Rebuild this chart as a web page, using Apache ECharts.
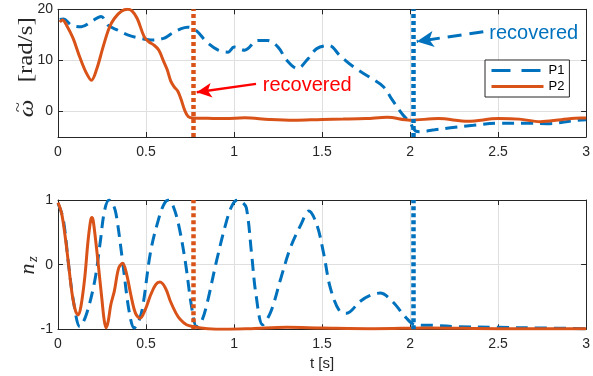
<!DOCTYPE html>
<html>
<head>
<meta charset="utf-8">
<script src="https://cdn.jsdelivr.net/npm/echarts@6/dist/echarts.min.js"></script>
<style>
  html, body { margin: 0; padding: 0; background: #fff; }
  #chart { width: 593px; height: 376px; }
</style>
</head>
<body>
<div id="chart"></div>
<script>
// Angular rate error (top) and n_z component (bottom) for the two controllers.
const tP1Top = [0.01,0.03,0.077,0.133,0.19,0.245,0.283,0.34,0.395,0.47,0.526,0.6,0.648,0.7,0.735,0.78,0.845,0.91,0.966,1.0,1.06,1.135,1.19,1.25,1.30,1.36,1.42,1.47,1.54,1.60,1.68,1.77,1.85,1.90,1.96,2.0,2.03,2.06,2.14,2.23,2.36,2.51,2.67,2.78,2.93,3.0];
const wP1Top = [18.0,18.1,16.9,16.6,17.6,18.6,16.9,15.9,15.0,14.3,14.0,14.3,15.3,16.2,16.5,16.0,13.6,12.0,11.6,12.6,12.0,13.9,13.9,12.6,10.0,8.4,10.3,12.3,12.9,11.0,8.7,6.7,4.8,2.2,-0.7,-2.2,-3.8,-3.95,-3.6,-3.2,-2.7,-2.3,-2.3,-2.4,-1.8,-1.6];

const tP2Top = [0.01,0.025,0.05,0.086,0.124,0.16,0.19,0.22,0.255,0.29,0.32,0.36,0.395,0.42,0.45,0.49,0.517,0.545,0.573,0.6,0.62,0.64,0.66,0.68,0.7,0.72,0.74,0.77,0.85,0.95,1.06,1.2,1.34,1.5,1.62,1.75,1.87,2.0,2.16,2.33,2.5,2.62,2.74,2.86,2.97,3.0];
const wP2Top = [17.5,17.9,16.8,14.3,10.6,7.6,6.1,8.3,12.5,16.3,18.2,19.6,20.0,19.7,18.2,14.6,13.6,13.0,12.0,9.8,8.2,6.0,4.8,4.0,2.3,0.2,-1.0,-1.3,-1.35,-1.4,-1.25,-1.55,-1.7,-1.55,-1.5,-1.4,-1.15,-1.7,-1.4,-1.9,-1.4,-1.5,-2.0,-1.6,-1.3,-1.3];

const tP1Bot = [0,0.03,0.06,0.09,0.124,0.16,0.208,0.24,0.264,0.29,0.31,0.33,0.367,0.404,0.433,0.455,0.48,0.526,0.573,0.605,0.63,0.655,0.685,0.723,0.76,0.788,0.815,0.845,0.9,0.957,0.99,1.02,1.045,1.07,1.1,1.125,1.163,1.21,1.266,1.32,1.38,1.425,1.47,1.51,1.547,1.6,1.64,1.715,1.77,1.83,1.9,1.98,2.03,2.14,2.27,2.5,2.75,3.0];
const nP1Bot = [0.95,0.7,0.0,-0.6,-0.96,-0.78,-0.26,0.35,0.83,1.0,0.95,0.78,0.05,-0.72,-0.98,-0.9,-0.67,0.2,0.72,0.95,1.0,0.9,0.62,0.05,-0.67,-0.96,-0.88,-0.62,0.05,0.67,0.92,1.0,0.97,0.88,0.16,-0.47,-0.93,-0.72,-0.21,0.26,0.62,0.83,0.62,0.16,-0.36,-0.72,-0.75,-0.57,-0.48,-0.44,-0.57,-0.83,-0.93,-0.94,-0.96,-0.97,-0.98,-0.99];

const tP2Bot = [0,0.02,0.04,0.058,0.08,0.1,0.115,0.13,0.152,0.17,0.185,0.193,0.2,0.215,0.227,0.25,0.262,0.273,0.285,0.3,0.32,0.345,0.367,0.39,0.414,0.44,0.466,0.495,0.526,0.555,0.579,0.61,0.639,0.67,0.695,0.73,0.77,0.85,0.95,1.1,1.3,1.5,1.8,2.1,2.5,3.0];
const nP2Bot = [0.96,0.8,0.45,0.05,-0.45,-0.72,-0.78,-0.65,-0.2,0.35,0.68,0.73,0.68,0.35,0.05,-0.55,-0.85,-0.98,-0.88,-0.62,-0.41,-0.05,0.02,-0.15,-0.47,-0.75,-0.83,-0.7,-0.47,-0.31,-0.27,-0.36,-0.57,-0.75,-0.85,-0.93,-0.96,-0.99,-1.0,-0.99,-0.97,-0.98,-0.99,-0.98,-0.99,-0.99];

// Tick values
const rateTicks = [0, 10, 20];
const nzTicks = [-1, 0, 1];

// Recovery instants [s]
const recoverP1 = 2.02;
const recoverP2 = 0.765;

// Annotation anchors in data units: [t, value]
const noteText = 'recovered';
const noteP2Text = [1.163, 5.0];
const noteP2ArrowFrom = [1.125, 5.4];
const noteP2ArrowTo = [0.788, 3.76];
const noteP1Text = [2.45, 15.2];
const noteP1ArrowFrom = [2.416, 15.6];
const noteP1ArrowTo = [2.038, 13.7];

const BLUE = '#0072BD';
const ORANGE = '#D95319';
const AXIS = '#262626';
const GRIDC = '#dfdfdf';
const CLEAR = 'rgba(0,0,0,0)';
const SANS = '"Liberation Sans", Arial, Helvetica, sans-serif';
const SERIF = '"Liberation Serif", "Times New Roman", serif';

const zip = (t, v) => t.map((x, i) => [x, v[i]]);

const chart = echarts.init(document.getElementById('chart'), null, { renderer: 'canvas' });

function timeAxis(gridIndex, position, labels, name) {
  return {
    type: 'value', gridIndex, position, min: 0, max: 3, interval: 0.5,
    axisLine: { show: true, onZero: false, lineStyle: { color: AXIS, width: 1 } },
    axisTick: { show: true, inside: true, length: 5, lineStyle: { color: AXIS } },
    axisLabel: { show: labels, fontSize: 14, color: AXIS, fontFamily: SANS, margin: 8 },
    splitLine: { show: position === 'bottom', lineStyle: { color: GRIDC, width: 1 } },
    name: name || '', nameLocation: 'middle', nameGap: 27,
    nameTextStyle: { fontSize: 15, color: AXIS, fontFamily: SANS }
  };
}

function valueAxis(gridIndex, position, min, max, ticks, labels) {
  return {
    type: 'value', gridIndex, position, min, max,
    axisLine: { show: true, onZero: false, lineStyle: { color: AXIS, width: 1 } },
    axisTick: { show: true, inside: true, length: 5, customValues: ticks, lineStyle: { color: AXIS } },
    axisLabel: { show: labels, customValues: ticks, fontSize: 14, color: AXIS, fontFamily: SANS, margin: 5 },
    splitLine: { show: position === 'left', lineStyle: { color: GRIDC, width: 1 } }
  };
}

// Vertical dotted marker at a recovery instant, spanning the whole panel
function recoverySeries(axisIndex, t, color) {
  return {
    name: 'recovery', type: 'line', xAxisIndex: axisIndex, yAxisIndex: axisIndex,
    data: [], z: 4, silent: true,
    markLine: {
      silent: true, animation: false, symbol: 'none', label: { show: false },
      lineStyle: { color, width: 4.5, type: [4, 3], cap: 'butt', opacity: 1 },
      emphasis: { disabled: true },
      data: [{ xAxis: t }]
    }
  };
}

function arrowSeries(from, to, color, width, dash, head) {
  return {
    name: 'note', type: 'line', xAxisIndex: 0, yAxisIndex: 0, data: [], z: 6, silent: true,
    markLine: {
      silent: true, animation: false, symbol: 'none',
      label: { show: false },
      lineStyle: { color, width, type: dash, opacity: 1 },
      itemStyle: { color },
      emphasis: { disabled: true },
      data: [[
        { coord: from, symbol: 'none' },
        { coord: to, symbol: 'arrow', symbolSize: head }
      ]]
    }
  };
}

const option = {
  animation: false,
  backgroundColor: '#fff',
  grid: [
    { left: 58, right: 1, top: 9.3, height: 127.7 },
    { left: 58, right: 1, top: 200, height: 129.3 }
  ],
  xAxis: [
    timeAxis(0, 'bottom', true),
    timeAxis(0, 'top', false),
    timeAxis(1, 'bottom', true, 't [s]'),
    timeAxis(1, 'top', false)
  ],
  yAxis: [
    valueAxis(0, 'left', -5, 20, rateTicks, true),
    valueAxis(0, 'right', -5, 20, rateTicks, false),
    valueAxis(1, 'left', -1, 1, nzTicks, true),
    valueAxis(1, 'right', -1, 1, nzTicks, false)
  ],
  legend: {
    data: [
      { name: 'P1', lineStyle: { color: BLUE, width: 3, type: [19, 11] } },
      { name: 'P2', lineStyle: { color: ORANGE, width: 3, type: 'solid' } }
    ],
    left: 485, top: 60, orient: 'vertical',
    itemWidth: 52, itemHeight: 14, itemGap: 3,
    padding: [4, 5, 4, 5],
    borderColor: AXIS, borderWidth: 1, backgroundColor: '#fff',
    itemStyle: { opacity: 0 },
    textStyle: { fontSize: 13, color: '#000', fontFamily: SANS },
    z: 10
  },
  series: [
    {
      name: 'P1', type: 'line', xAxisIndex: 0, yAxisIndex: 0,
      data: zip(tP1Top, wP1Top), symbol: 'none', smooth: 0.35,
      lineStyle: { color: BLUE, width: 3, type: [12, 7] }, itemStyle: { color: CLEAR }
    },
    {
      name: 'P2', type: 'line', xAxisIndex: 0, yAxisIndex: 0,
      data: zip(tP2Top, wP2Top), symbol: 'none', smooth: 0.35,
      lineStyle: { color: ORANGE, width: 3 }, itemStyle: { color: CLEAR }
    },
    {
      name: 'P1', type: 'line', xAxisIndex: 2, yAxisIndex: 2,
      data: zip(tP1Bot, nP1Bot), symbol: 'none', smooth: 0.35,
      lineStyle: { color: BLUE, width: 3, type: [12, 7] }, itemStyle: { color: CLEAR }
    },
    {
      name: 'P2', type: 'line', xAxisIndex: 2, yAxisIndex: 2,
      data: zip(tP2Bot, nP2Bot), symbol: 'none', smooth: 0.35,
      lineStyle: { color: ORANGE, width: 3 }, itemStyle: { color: CLEAR }
    },
    recoverySeries(0, recoverP2, ORANGE),
    recoverySeries(0, recoverP1, BLUE),
    recoverySeries(2, recoverP2, ORANGE),
    recoverySeries(2, recoverP1, BLUE),
    arrowSeries(noteP2ArrowFrom, noteP2ArrowTo, '#ff0000', 2.5, 'solid', [11, 15]),
    arrowSeries(noteP1ArrowFrom, noteP1ArrowTo, BLUE, 3, [14, 8], [12, 17]),
    {
      name: 'noteText', type: 'line', xAxisIndex: 0, yAxisIndex: 0, data: [], z: 6, silent: true,
      markPoint: {
        silent: true, animation: false, symbol: 'circle', symbolSize: 0,
        itemStyle: { color: CLEAR },
        label: { show: true, position: 'right', distance: 0, fontSize: 20, fontFamily: SANS, formatter: () => noteText },
        data: [
          { coord: noteP2Text, label: { color: '#ff0000' } },
          { coord: noteP1Text, label: { color: BLUE } }
        ]
      }
    }
  ],
  graphic: [
    {
      // y label of the top panel: omega-tilde [rad/s]
      type: 'group', x: 27, y: 61, rotation: Math.PI / 2, scaleX: 1.25, silent: true,
      children: [
        { type: 'text', x: -38, y: 1, style: { text: '\u03c9', font: 'italic 20px ' + SERIF, align: 'center', verticalAlign: 'middle', fill: AXIS } },
        { type: 'text', x: -37, y: -8, style: { text: '~', font: '15px ' + SERIF, align: 'center', verticalAlign: 'middle', fill: AXIS } },
        { type: 'text', x: 9, y: 0, style: { text: '[rad/s]', font: '20px ' + SERIF, align: 'center', verticalAlign: 'middle', fill: AXIS } }
      ]
    },
    {
      type: 'group', x: 28, y: 266, rotation: Math.PI / 2, silent: true,
      children: [
        { type: 'text', x: -3, y: 0, style: { text: 'n', font: 'italic 22px ' + SERIF, align: 'center', verticalAlign: 'middle', fill: AXIS } },
        { type: 'text', x: 7, y: 5, style: { text: 'z', font: 'italic 15px ' + SERIF, align: 'center', verticalAlign: 'middle', fill: AXIS } }
      ]
    }
  ]
};

chart.setOption(option);
</script>
</body>
</html>
